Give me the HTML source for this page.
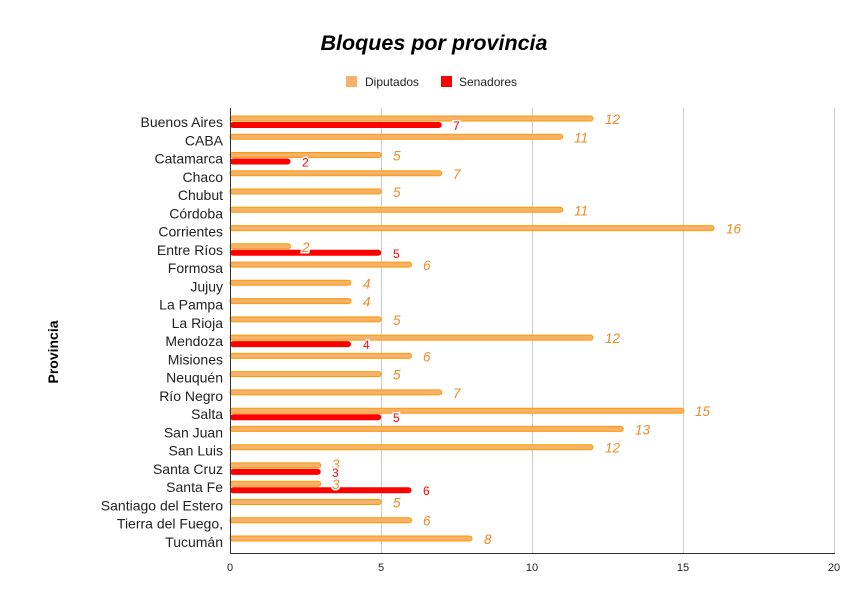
<!DOCTYPE html>
<html><head><meta charset="utf-8"><style>
body{margin:0;background:#fff}
svg{display:block;font-family:"Liberation Sans",Arial,sans-serif}
.yl{font-size:14px;fill:#222;text-anchor:end}
.o{fill:#f6b26b;stroke:#ff9900;stroke-width:1}
.r{fill:#ff0000}
.ol{font-size:13.5px;font-style:italic;fill:#f08a24}
.rl{font-size:12px;fill:#ff0000;stroke:#fff;stroke-width:3px;paint-order:stroke}
.xt{font-size:11px;fill:#222;text-anchor:middle}
</style></head><body>
<svg width="866" height="604" viewBox="0 0 866 604">
<text x="434" y="50" text-anchor="middle" font-size="21.5" font-weight="bold" font-style="italic" fill="#000">Bloques por provincia</text>
<rect x="346" y="76" width="11" height="11" fill="#f6b26b"/>
<text x="365" y="86" font-size="12" fill="#222">Diputados</text>
<rect x="441" y="76" width="11" height="11" fill="#ff0000"/>
<text x="459" y="86" font-size="12" fill="#222">Senadores</text>
<text transform="translate(58,352) rotate(-90)" text-anchor="middle" font-size="14" font-weight="bold" fill="#000">Provincia</text>
<g stroke="#ccc" stroke-width="1">
<line x1="381.5" y1="108" x2="381.5" y2="553"/><line x1="532.5" y1="108" x2="532.5" y2="553"/><line x1="683.5" y1="108" x2="683.5" y2="553"/><line x1="834.5" y1="108" x2="834.5" y2="553"/>
</g>
<text class="xt" x="230" y="571">0</text><text class="xt" x="381" y="571">5</text><text class="xt" x="532" y="571">10</text><text class="xt" x="683" y="571">15</text><text class="xt" x="834" y="571">20</text>

<g transform="translate(0,122)"><text class="yl" x="223" y="5">Buenos Aires</text><rect class="o" x="230" y="-6" width="363" height="5" rx="2.5"/><rect class="r" x="230" y="0" width="211.75" height="6" rx="3"/><text class="ol" x="605" y="2">12</text><text class="rl" x="453" y="8">7</text></g>
<g transform="translate(0,140.3)"><text class="yl" x="223" y="5">CABA</text><rect class="o" x="230" y="-6" width="332.75" height="5" rx="2.5"/><text class="ol" x="574" y="2">11</text></g>
<g transform="translate(0,158.5)"><text class="yl" x="223" y="5">Catamarca</text><rect class="o" x="230" y="-6" width="151.25" height="5" rx="2.5"/><rect class="r" x="230" y="0" width="60.5" height="6" rx="3"/><text class="ol" x="393" y="2">5</text><text class="rl" x="302" y="8">2</text></g>
<g transform="translate(0,176.8)"><text class="yl" x="223" y="5">Chaco</text><rect class="o" x="230" y="-6" width="211.75" height="5" rx="2.5"/><text class="ol" x="453" y="2">7</text></g>
<g transform="translate(0,195)"><text class="yl" x="223" y="5">Chubut</text><rect class="o" x="230" y="-6" width="151.25" height="5" rx="2.5"/><text class="ol" x="393" y="2">5</text></g>
<g transform="translate(0,213.3)"><text class="yl" x="223" y="5">Córdoba</text><rect class="o" x="230" y="-6" width="332.75" height="5" rx="2.5"/><text class="ol" x="574" y="2">11</text></g>
<g transform="translate(0,231.6)"><text class="yl" x="223" y="5">Corrientes</text><rect class="o" x="230" y="-6" width="484" height="5" rx="2.5"/><text class="ol" x="726" y="2">16</text></g>
<g transform="translate(0,249.8)"><text class="yl" x="223" y="5">Entre Ríos</text><rect class="o" x="230" y="-6" width="60.5" height="5" rx="2.5"/><rect class="r" x="230" y="0" width="151.25" height="6" rx="3"/><text class="ol" x="302" y="2" style="stroke:#fff;stroke-width:3px;paint-order:stroke">2</text><text class="rl" x="393" y="8">5</text></g>
<g transform="translate(0,268.1)"><text class="yl" x="223" y="5">Formosa</text><rect class="o" x="230" y="-6" width="181.5" height="5" rx="2.5"/><text class="ol" x="423" y="2">6</text></g>
<g transform="translate(0,286.3)"><text class="yl" x="223" y="5">Jujuy</text><rect class="o" x="230" y="-6" width="121" height="5" rx="2.5"/><text class="ol" x="363" y="2">4</text></g>
<g transform="translate(0,304.6)"><text class="yl" x="223" y="5">La Pampa</text><rect class="o" x="230" y="-6" width="121" height="5" rx="2.5"/><text class="ol" x="363" y="2">4</text></g>
<g transform="translate(0,322.9)"><text class="yl" x="223" y="5">La Rioja</text><rect class="o" x="230" y="-6" width="151.25" height="5" rx="2.5"/><text class="ol" x="393" y="2">5</text></g>
<g transform="translate(0,341.1)"><text class="yl" x="223" y="5">Mendoza</text><rect class="o" x="230" y="-6" width="363" height="5" rx="2.5"/><rect class="r" x="230" y="0" width="121" height="6" rx="3"/><text class="ol" x="605" y="2">12</text><text class="rl" x="363" y="8">4</text></g>
<g transform="translate(0,359.4)"><text class="yl" x="223" y="5">Misiones</text><rect class="o" x="230" y="-6" width="181.5" height="5" rx="2.5"/><text class="ol" x="423" y="2">6</text></g>
<g transform="translate(0,377.6)"><text class="yl" x="223" y="5">Neuquén</text><rect class="o" x="230" y="-6" width="151.25" height="5" rx="2.5"/><text class="ol" x="393" y="2">5</text></g>
<g transform="translate(0,395.9)"><text class="yl" x="223" y="5">Río Negro</text><rect class="o" x="230" y="-6" width="211.75" height="5" rx="2.5"/><text class="ol" x="453" y="2">7</text></g>
<g transform="translate(0,414.2)"><text class="yl" x="223" y="5">Salta</text><rect class="o" x="230" y="-6" width="453.75" height="5" rx="2.5"/><rect class="r" x="230" y="0" width="151.25" height="6" rx="3"/><text class="ol" x="695" y="2">15</text><text class="rl" x="393" y="8">5</text></g>
<g transform="translate(0,432.4)"><text class="yl" x="223" y="5">San Juan</text><rect class="o" x="230" y="-6" width="393.25" height="5" rx="2.5"/><text class="ol" x="635" y="2">13</text></g>
<g transform="translate(0,450.7)"><text class="yl" x="223" y="5">San Luis</text><rect class="o" x="230" y="-6" width="363" height="5" rx="2.5"/><text class="ol" x="605" y="2">12</text></g>
<g transform="translate(0,468.9)"><text class="yl" x="223" y="5">Santa Cruz</text><rect class="o" x="230" y="-6" width="90.75" height="5" rx="2.5"/><rect class="r" x="230" y="0" width="90.75" height="6" rx="3"/><text class="ol" x="332" y="0">3</text><text class="rl" x="332" y="8">3</text></g>
<g transform="translate(0,487.2)"><text class="yl" x="223" y="5">Santa Fe</text><rect class="o" x="230" y="-6" width="90.75" height="5" rx="2.5"/><rect class="r" x="230" y="0" width="181.5" height="6" rx="3"/><text class="ol" x="332" y="2" style="stroke:#fff;stroke-width:3px;paint-order:stroke">3</text><text class="rl" x="423" y="8">6</text></g>
<g transform="translate(0,505.5)"><text class="yl" x="223" y="5">Santiago del Estero</text><rect class="o" x="230" y="-6" width="151.25" height="5" rx="2.5"/><text class="ol" x="393" y="2">5</text></g>
<g transform="translate(0,523.7)"><text class="yl" x="223" y="5">Tierra del Fuego,</text><rect class="o" x="230" y="-6" width="181.5" height="5" rx="2.5"/><text class="ol" x="423" y="2">6</text></g>
<g transform="translate(0,542)"><text class="yl" x="223" y="5">Tucumán</text><rect class="o" x="230" y="-6" width="242" height="5" rx="2.5"/><text class="ol" x="484" y="2">8</text></g>

<line x1="230.5" y1="108" x2="230.5" y2="553" stroke="#333" stroke-width="1"/>
<line x1="230" y1="553.5" x2="835" y2="553.5" stroke="#333" stroke-width="1"/>
</svg>
</body></html>
